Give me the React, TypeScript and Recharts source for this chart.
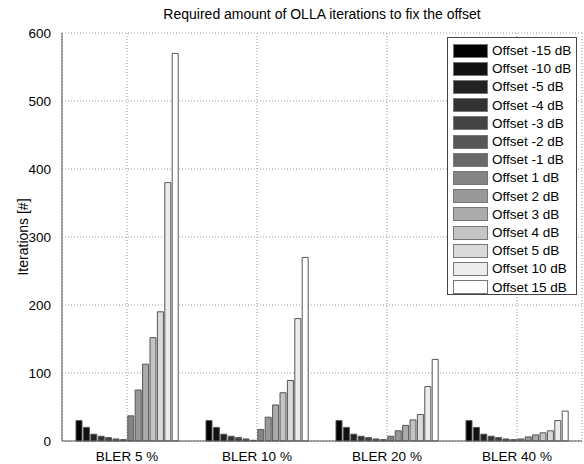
import React from 'react';
import { BarChart, Bar, XAxis, YAxis, CartesianGrid, Legend } from 'recharts';

const categories = ['BLER 5 %', 'BLER 10 %', 'BLER 20 %', 'BLER 40 %'];
const yTicks = [0, 100, 200, 300, 400, 500, 600];

const offsetLabels = [
  'Offset -15 dB', 'Offset -10 dB', 'Offset -5 dB', 'Offset -4 dB', 'Offset -3 dB',
  'Offset -2 dB', 'Offset -1 dB', 'Offset 1 dB', 'Offset 2 dB', 'Offset 3 dB',
  'Offset 4 dB', 'Offset 5 dB', 'Offset 10 dB', 'Offset 15 dB',
];

const offsetColors = [
  '#000000', '#111111', '#222222', '#333333', '#444444', '#575757', '#696969',
  '#848484', '#999999', '#ababab', '#c4c4c4', '#dadada', '#ececec', '#ffffff',
];

const offsetM15 = [30, 30, 30, 30];
const offsetM10 = [20, 20, 20, 20];
const offsetM5 = [10, 10, 10, 10];
const offsetM4 = [7, 7, 7, 7];
const offsetM3 = [5, 5, 5, 5];
const offsetM2 = [3, 3, 3, 3];
const offsetM1 = [2, 1, 2, 2];
const offsetP1 = [37, 17, 7, 3];
const offsetP2 = [75, 35, 15, 6];
const offsetP3 = [113, 53, 23, 9];
const offsetP4 = [152, 71, 31, 12];
const offsetP5 = [190, 89, 39, 15];
const offsetP10 = [380, 180, 80, 30];
const offsetP15 = [570, 270, 120, 44];

const seriesValues = [
  offsetM15, offsetM10, offsetM5, offsetM4, offsetM3, offsetM2, offsetM1,
  offsetP1, offsetP2, offsetP3, offsetP4, offsetP5, offsetP10, offsetP15,
];

const data = categories.map((name, i) => {
  const row: Record<string, number | string> = { name };
  seriesValues.forEach((vals, k) => {
    row['s' + k] = vals[i];
  });
  return row;
});

const FONT = '"Liberation Sans", Arial, Helvetica, sans-serif';

const LegendBox = () => (
  <div
    style={{
      position: 'absolute',
      left: 447,
      top: 37,
      width: 128,
      height: 256,
      border: '1px solid #444',
      background: '#fff',
      fontFamily: FONT,
      fontSize: 13.5,
      boxSizing: 'content-box',
    }}
  >
    {offsetLabels.map((lab, k) => (
      <div
        key={lab}
        style={{
          position: 'absolute',
          left: 5,
          top: 5 + k * 18.2,
          height: 15,
          display: 'flex',
          alignItems: 'center',
          whiteSpace: 'nowrap',
          color: '#000',
        }}
      >
        <div
          style={{
            width: 33,
            height: 12,
            background: offsetColors[k],
            border: '1px solid #777',
            marginRight: 4,
            flexShrink: 0,
          }}
        />
        <span>{lab}</span>
      </div>
    ))}
  </div>
);

export default function App() {
  return (
    <div style={{ position: 'absolute', left: 0, top: 0, width: 584, height: 464, background: '#fff' }}>
      <div
        style={{
          position: 'absolute',
          left: 62,
          width: 520,
          top: 6,
          textAlign: 'center',
          fontFamily: FONT,
          fontSize: 14,
          lineHeight: '17px',
          color: '#000',
        }}
      >
        Required amount of OLLA iterations to fix the offset
      </div>
      <BarChart
        width={584}
        height={464}
        data={data}
        margin={{ top: 33, right: 2, left: 0, bottom: 0 }}
        barSize={6}
        barGap={1.4}
        style={{ fontFamily: FONT }}
      >
        <CartesianGrid stroke="#9a9a9a" strokeDasharray="1 2" />
        <XAxis
          dataKey="name"
          height={23}
          tickLine={false}
          axisLine={{ stroke: '#555' }}
          tick={{ fontSize: 13.5, fill: '#000', fontFamily: FONT }}
          tickMargin={4}
        />
        <YAxis
          width={62}
          domain={[0, 600]}
          ticks={yTicks}
          interval={0}
          tickLine={false}
          axisLine={{ stroke: '#555' }}
          tick={{ fontSize: 13.5, fill: '#000', fontFamily: FONT }}
          tickMargin={5}
          label={{
            value: 'Iterations [#]',
            angle: -90,
            position: 'center',
            dx: -8,
            style: { fontSize: 14, fill: '#000', fontFamily: FONT },
          }}
        />
        <Legend content={() => null} />
        {seriesValues.map((_, k) => (
          <Bar
            key={k}
            dataKey={'s' + k}
            name={offsetLabels[k]}
            fill={offsetColors[k]}
            stroke="#555"
            strokeWidth={1}
            isAnimationActive={false}
          />
        ))}
      </BarChart>
      <LegendBox />
    </div>
  );
}
